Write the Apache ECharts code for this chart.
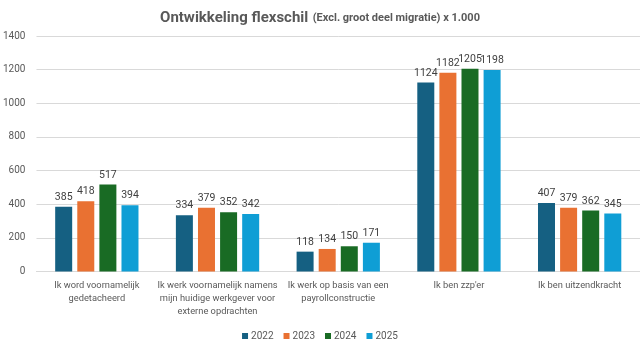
<!DOCTYPE html>
<html>
<head>
<meta charset="utf-8">
<script src="https://cdn.jsdelivr.net/npm/echarts@6/dist/echarts.min.js"></script>
<style>html,body{margin:0;padding:0;background:#fff}#c{width:640px;height:348px}</style>
</head>
<body>
<div id="c"></div>
<script>
const categories = [
  "Ik word voornamelijk\ngedetacheerd",
  "Ik werk voornamelijk namens\nmijn huidige werkgever voor\nexterne opdrachten",
  "Ik werk op basis van een\npayrollconstructie",
  "Ik ben zzp'er",
  "Ik ben uitzendkracht"
];
const years = ["2022", "2023", "2024", "2025"];
const values2022 = [385, 334, 118, 1124, 407];
const values2023 = [418, 379, 134, 1182, 379];
const values2024 = [517, 352, 150, 1205, 362];
const values2025 = [394, 342, 171, 1198, 345];
const yTicks = [0, 200, 400, 600, 800, 1000, 1200, 1400];

const seriesValues = [values2022, values2023, values2024, values2025];
const colors = ["#156082", "#E97132", "#196B24", "#0F9ED5"];
const FONT = "Roboto";

const chart = echarts.init(document.getElementById('c'), null, {renderer: 'canvas'});
chart.setOption({
  animation: false,
  color: colors,
  textStyle: {fontFamily: FONT},
  title: {
    text: '{a|Ontwikkeling flexschil} {b|(Excl. groot deel migratie) x 1.000}',
    left: 'center',
    top: 4,
    textStyle: {
      rich: {
        a: {fontFamily: FONT, fontSize: 15, fontWeight: 'bold', color: '#595959'},
        b: {fontFamily: FONT, fontSize: 11, fontWeight: 'bold', color: '#595959'}
      }
    }
  },
  grid: {left: 32, right: 0, top: 36, bottom: 76.5, containLabel: false},
  legend: {
    data: years,
    bottom: 2,
    left: 'center',
    itemWidth: 6,
    itemHeight: 6,
    itemGap: 10,
    icon: 'rect',
    textStyle: {fontFamily: FONT, fontSize: 10, color: '#595959', padding: [0, 0, 0, -2]}
  },
  xAxis: {
    type: 'category',
    data: categories,
    axisLine: {lineStyle: {color: '#d9d9d9', width: 1}},
    axisTick: {show: false},
    axisLabel: {
      interval: 0,
      color: '#595959',
      fontSize: 9.3,
      fontFamily: FONT,
      lineHeight: 12.8,
      margin: 8
    }
  },
  yAxis: {
    type: 'value',
    min: yTicks[0],
    max: yTicks[yTicks.length - 1],
    interval: 200,
    axisLine: {show: false},
    axisTick: {show: false},
    splitLine: {lineStyle: {color: '#d9d9d9', width: 1}},
    axisLabel: {color: '#595959', fontSize: 10, fontFamily: FONT, margin: 11, formatter: v => String(v)}
  },
  series: years.map((y, i) => ({
    name: y,
    type: 'bar',
    data: seriesValues[i],
    barWidth: 17,
    barGap: '30%',
    itemStyle: {color: colors[i]},
    label: {
      show: true,
      position: 'top',
      distance: 4,
      color: '#404040',
      fontSize: 10.5,
      fontFamily: FONT
    }
  }))
});
</script>
</body>
</html>
